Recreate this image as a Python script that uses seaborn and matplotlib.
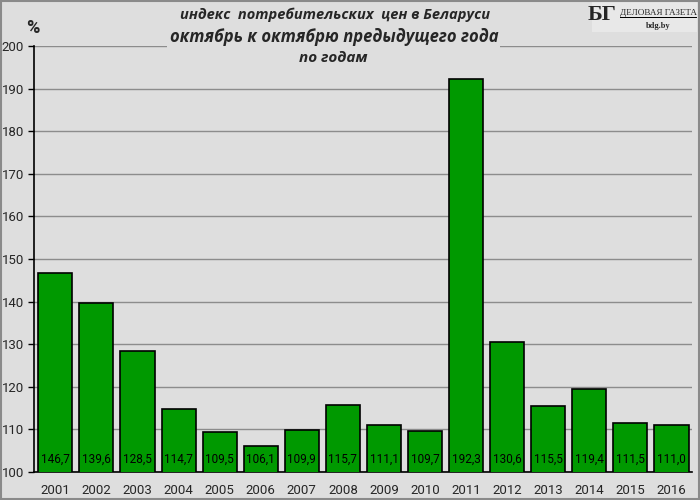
import matplotlib
matplotlib.use("Agg")
import matplotlib.pyplot as plt
import seaborn as sns
import pandas as pd

# CPI in Belarus, October to October of previous year
years = ['2001', '2002', '2003', '2004', '2005', '2006', '2007', '2008',
         '2009', '2010', '2011', '2012', '2013', '2014', '2015', '2016']
cpi = [146.7, 139.6, 128.5, 114.7, 109.5, 106.1, 109.9, 115.7,
       111.1, 109.7, 192.3, 130.6, 115.5, 119.4, 111.5, 111.0]
yticks = list(range(100, 201, 10))

df = pd.DataFrame({'year': years, 'cpi': cpi})

sns.set_theme(style='white')
plt.rcParams['font.family'] = ['Roboto', 'DejaVu Sans']

bg = '#dedede'
fig = plt.figure(figsize=(7, 5), dpi=100, facecolor=bg)
ax = fig.add_axes([0.0486, 0.056, 0.9400, 0.852])
ax.set_facecolor(bg)

sns.barplot(data=df, x='year', y='cpi', color='#009900', saturation=1,
            width=0.83, edgecolor='black', linewidth=1.2, ax=ax, zorder=3)

ax.set_ylim(100, 200)
ax.set_xlim(-0.52, 15.5)
ax.set_yticks(yticks)
ax.yaxis.grid(True, color='#8c8c8c', linewidth=1, zorder=0)
ax.set_axisbelow(True)
for s in ['top', 'right']:
    ax.spines[s].set_visible(False)
ax.spines['left'].set_color('black')
ax.spines['bottom'].set_color('black')
ax.spines['left'].set_linewidth(1.2)
ax.spines['bottom'].set_linewidth(1.2)
ax.tick_params(axis='y', length=4, width=1, color='black', left=True,
               labelsize=9.5, pad=3)
ax.tick_params(axis='x', length=0, labelsize=9.5, pad=9)
ax.set_xlabel('')
ax.set_ylabel('')

for i, v in enumerate(cpi):
    ax.text(i, 103, f'{v:.1f}'.replace('.', ','), ha='center', va='center',
            fontsize=8.5, color='black', zorder=4)

# title, with a box that hides the top gridline
fig.patches.append(plt.Rectangle((0.239, 0.86), 0.475, 0.06,
                                 transform=fig.transFigure, facecolor=bg,
                                 edgecolor='none', zorder=5))
tfont = dict(ha='center', va='center', style='italic', fontweight='bold',
             family=['Open Sans', 'DejaVu Sans'], zorder=6)
fig.text(0.479, 0.970, 'индекс  потребительских  цен в Беларуси',
         fontsize=10.5, **tfont)
fig.text(0.478, 0.926, 'октябрь к октябрю предыдущего года',
         fontsize=12, **tfont)
fig.text(0.476, 0.884, 'по годам', fontsize=11, **tfont)

fig.text(0.047, 0.944, '%', ha='center', va='center', fontsize=13,
         fontweight='bold')

# logo
fig.patches.append(plt.Rectangle((0.846, 0.936), 0.15, 0.064,
                                 transform=fig.transFigure,
                                 facecolor='#e8e8e8', edgecolor='none'))
fig.text(0.860, 0.970, 'БГ', ha='center', va='center', fontsize=16,
         fontweight='bold', family='Liberation Serif')
fig.text(0.941, 0.974, 'ДЕЛОВАЯ ГАЗЕТА', ha='center', va='center',
         fontsize=6.6, family='Liberation Serif')
fig.patches.append(plt.Rectangle((0.886, 0.9635), 0.11, 0.0022,
                                 transform=fig.transFigure,
                                 facecolor='black', edgecolor='none'))
fig.text(0.941, 0.947, 'bdg.by', ha='center', va='center', fontsize=6,
         fontweight='bold', family='Liberation Serif')

fig.patches.append(plt.Rectangle((0.001, 0.002), 0.997, 0.996,
                                 transform=fig.transFigure, fill=False,
                                 edgecolor='#8a8a8a', linewidth=1.5))

fig.savefig('out.png', dpi=100, facecolor=bg)
